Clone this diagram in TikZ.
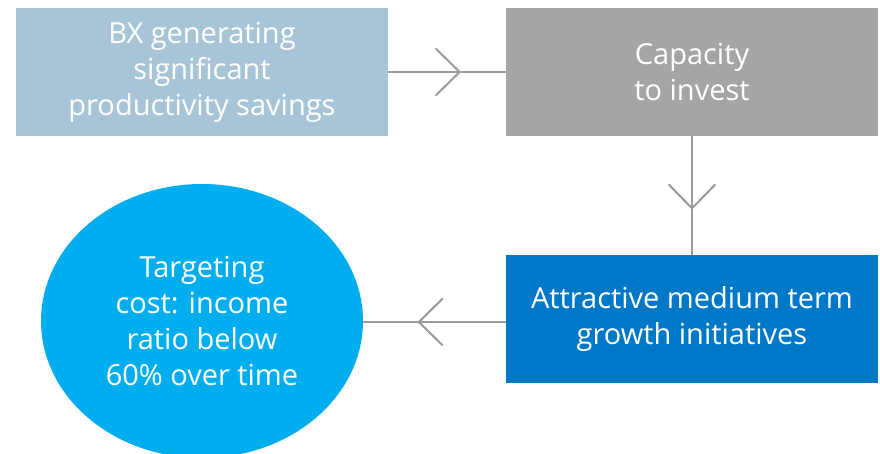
\documentclass[tikz,border=0pt]{standalone}
\usepackage{fontspec}
\setmainfont{Open Sans}
\usepackage{tikz}
\usetikzlibrary{arrows.meta,decorations.markings,shapes.geometric}

\definecolor{bxblue}{HTML}{A8C5D8}
\definecolor{capgray}{HTML}{A5A5A5}
\definecolor{growblue}{HTML}{0078C8}
\definecolor{targetcyan}{HTML}{00AEEF}
\definecolor{flowgray}{HTML}{9B9B9B}

\begin{document}
\begin{tikzpicture}[x=1pt, y=1pt,
                    main box/.style={rectangle,minimum width=372pt,minimum height=128pt,inner sep=0pt,
                                     text=white,align=center,font=\fontsize{29}{36}\selectfont},
                    flow/.style={flowgray,line width=2pt,
                                 decoration={markings,mark=at position 0.62 with {\arrow{Straight Barb[length=24pt,width=47pt]}}},
                                 postaction=decorate}]
  \useasboundingbox (0,0) rectangle (880,-453);
  \node[main box, fill=bxblue] (bx) at (202,-72) {BX generating\\significant\\productivity savings};
  \node[main box, fill=capgray] (cap) [right of=bx, node distance=490pt] {Capacity\\to invest};
  \node[main box, fill=growblue] (growth) [below of=cap, node distance=247pt] {Attractive medium term\\growth initiatives};
  \node[main box, ellipse, fill=targetcyan, minimum width=322pt, minimum height=274pt]
    (target) [below of=bx, node distance=249pt] {Targeting\\cost: income\\ratio below\\60\% over time};
  \draw[flow] (bx) -- (cap);
  \draw[flow] (cap) -- (growth);
  \draw[flow] ([yshift=-3pt]growth.west) -- ([yshift=-3pt]growth.west -| target.east);
\end{tikzpicture}
\end{document}
